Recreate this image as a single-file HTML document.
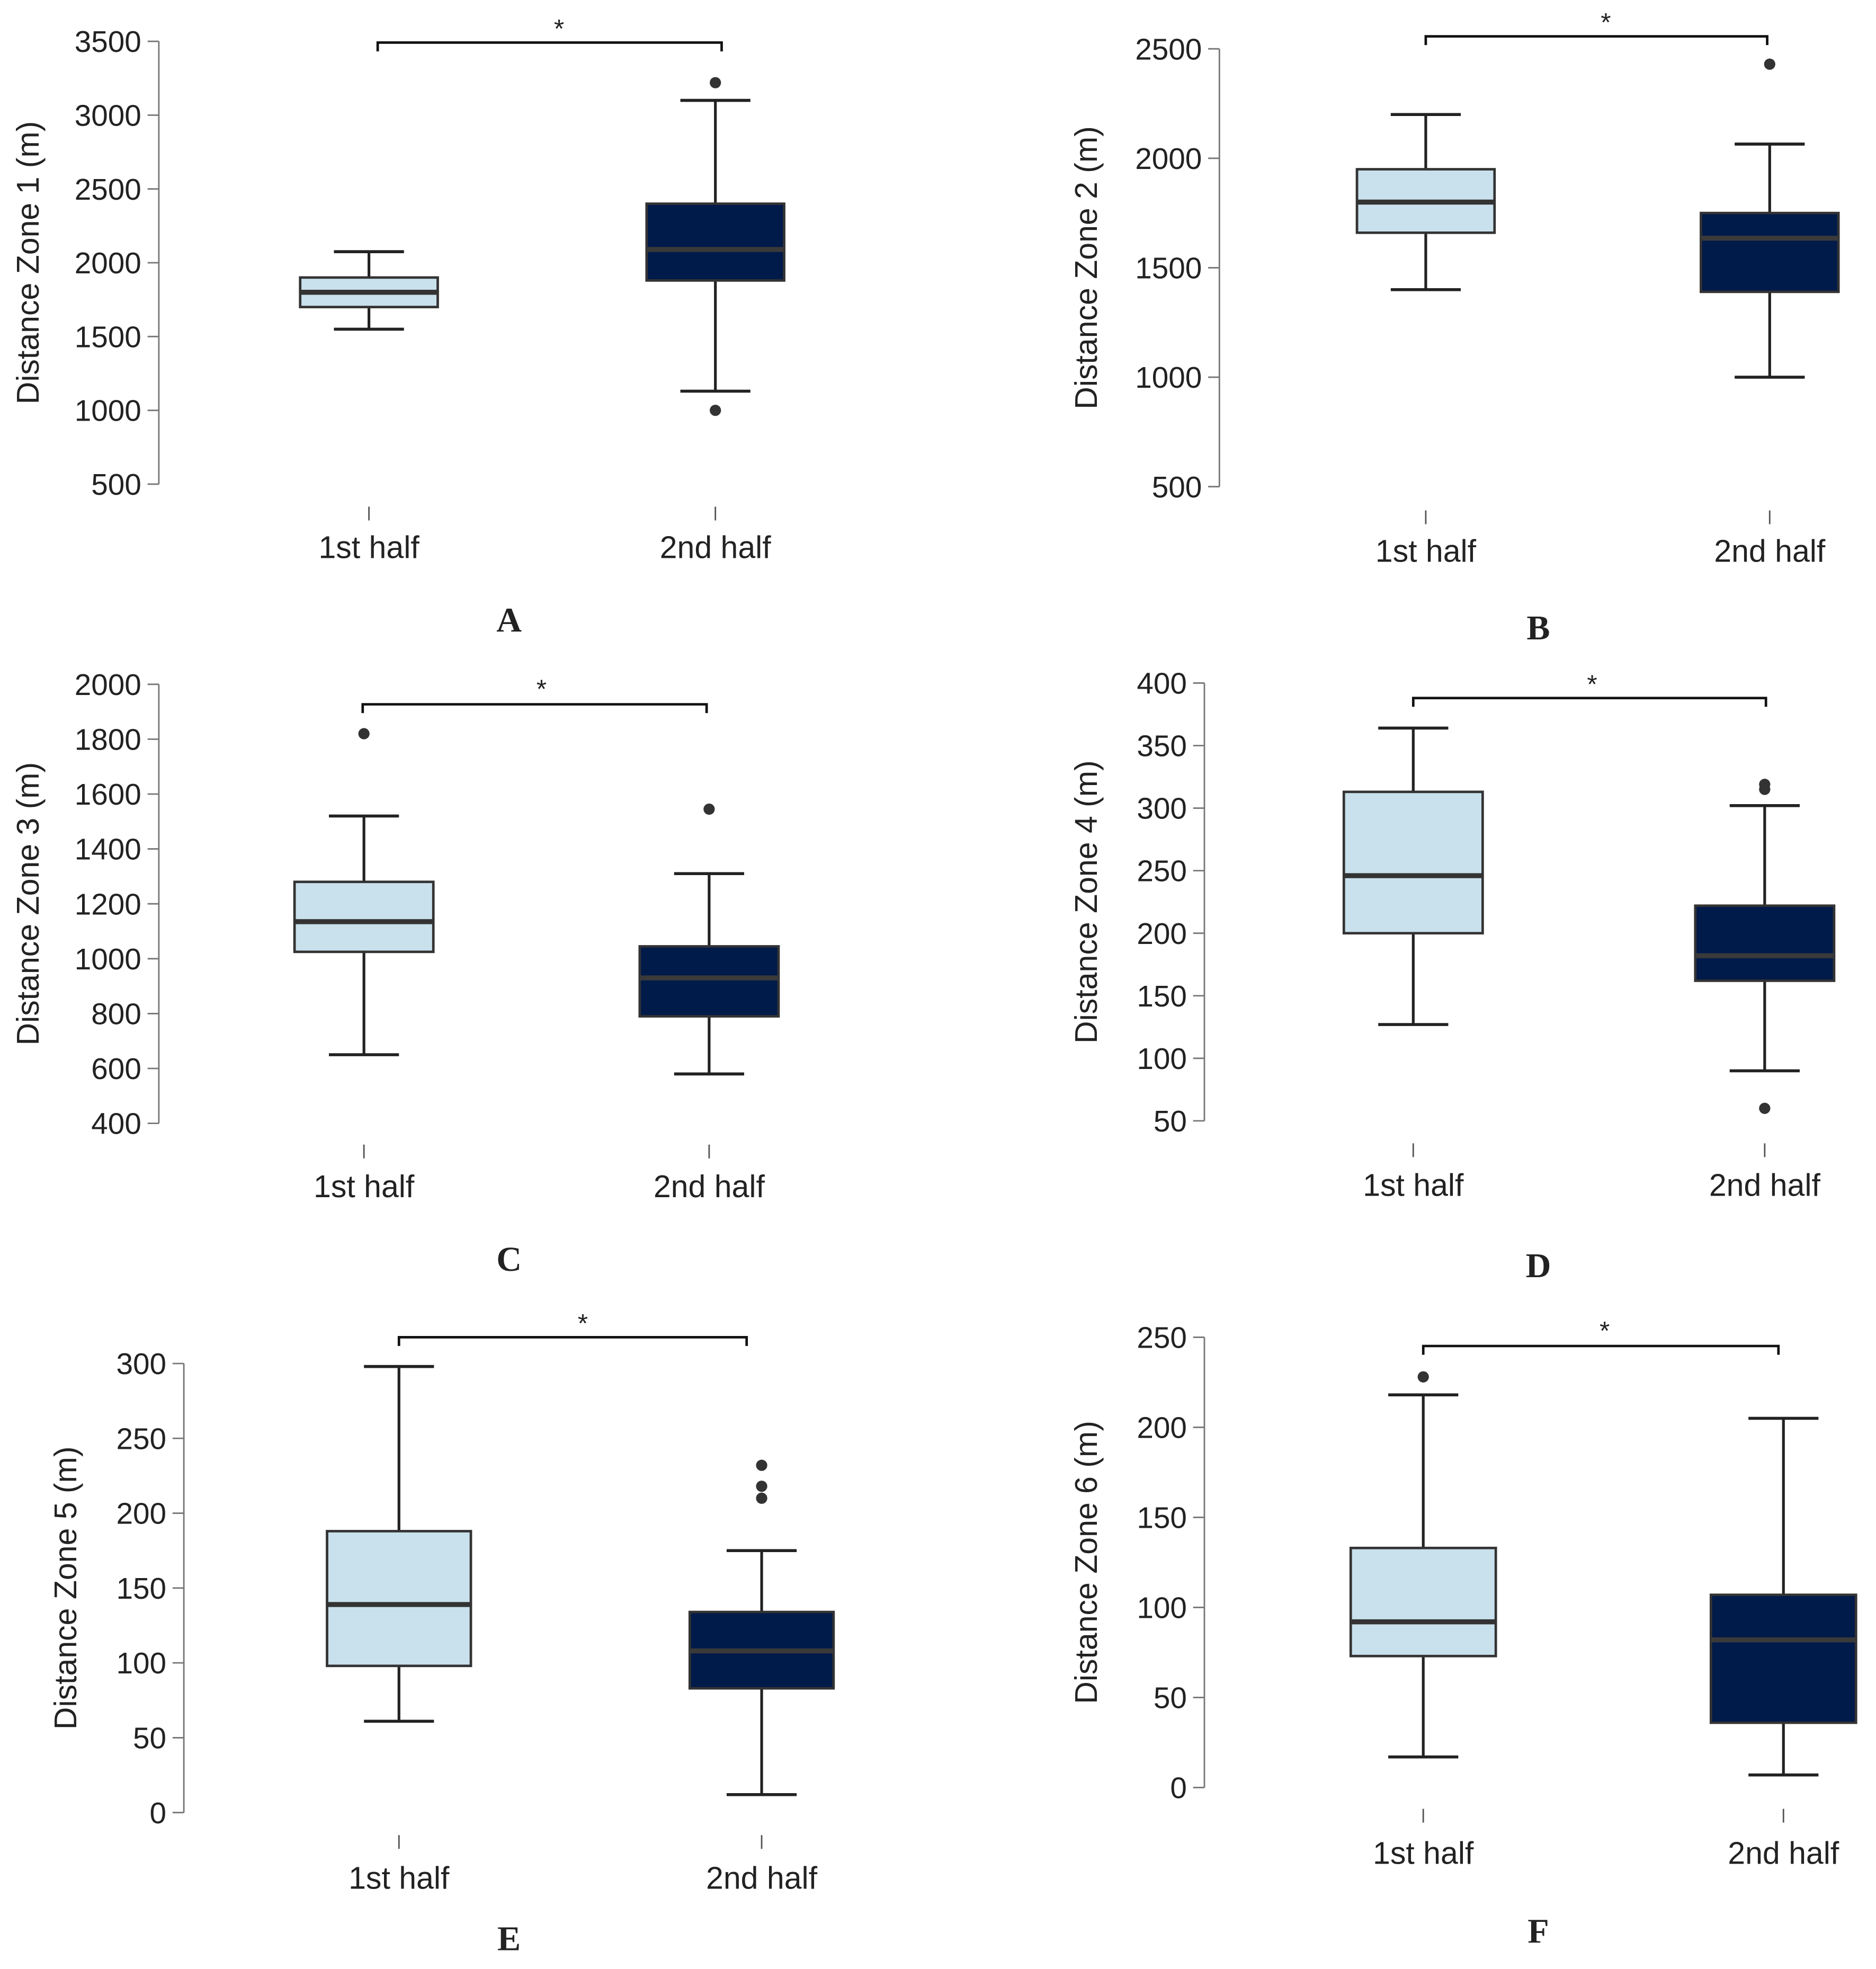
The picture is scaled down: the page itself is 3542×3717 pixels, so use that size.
<!DOCTYPE html>
<html><head><meta charset="utf-8"><style>
html,body{margin:0;padding:0;background:#fff}
svg{display:block}
text{font-family:"Liberation Sans",sans-serif;fill:#222}
</style></head><body>
<svg id="chart" width="3542" height="3717" viewBox="0 0 1500 1574" xmlns="http://www.w3.org/2000/svg"></svg>
<script>
// Data: [min, q1, median, q3, max]
const groups = ["1st half","2nd half"];
const panelLetters = ["A","B","C","D","E","F"];
const yTitles = ["Distance Zone 1 (m)","Distance Zone 2 (m)","Distance Zone 3 (m)","Distance Zone 4 (m)","Distance Zone 5 (m)","Distance Zone 6 (m)"];
const ticksA = [500,1000,1500,2000,2500,3000,3500];
const ticksB = [500,1000,1500,2000,2500];
const ticksC = [400,600,800,1000,1200,1400,1600,1800,2000];
const ticksD = [50,100,150,200,250,300,350,400];
const ticksE = [0,50,100,150,200,250,300];
const ticksF = [0,50,100,150,200,250];
const statsA1 = [1550,1700,1800,1900,2075]; const statsA2 = [1130,1880,2090,2400,3100];
const outA1 = []; const outA2 = [3220,1000];
const statsB1 = [1400,1660,1800,1950,2200]; const statsB2 = [1000,1390,1635,1750,2065];
const outB1 = []; const outB2 = [2430];
const statsC1 = [650,1025,1135,1280,1520]; const statsC2 = [580,790,930,1045,1310];
const outC1 = [1820]; const outC2 = [1545];
const statsD1 = [127,200,246,313,364]; const statsD2 = [90,162,182,222,302];
const outD1 = []; const outD2 = [315,319,60];
const statsE1 = [61,98,139,188,298]; const statsE2 = [12,83,108,134,175];
const outE1 = []; const outE2 = [210,218,232];
const statsF1 = [17,73,92,133,218]; const statsF2 = [7,36,82,107,205];
const outF1 = [228]; const outF2 = [];

const L = [
 {ax:127,yTop:33,yBot:387,cx:[295,572],bw:110,brY:34,brX:[302,577],star:[447,18],tickY:405,labY:446,let:[407,505],ylx:22},
 {ax:975,yTop:39,yBot:389,cx:[1140,1415],bw:110,brY:29,brX:[1140,1413],star:[1284,13],tickY:408,labY:449,let:[1230,511],ylx:868},
 {ax:127,yTop:547,yBot:898,cx:[291,567],bw:111,brY:563,brX:[290,565],star:[433,546],tickY:915,labY:957,let:[407,1016],ylx:22},
 {ax:963,yTop:546,yBot:896,cx:[1130,1411],bw:111,brY:558,brX:[1130,1412],star:[1273,542],tickY:914,labY:956,let:[1230,1021],ylx:868},
 {ax:147,yTop:1090,yBot:1449,cx:[319,609],bw:115,brY:1069,brX:[319,597],star:[466,1053],tickY:1467,labY:1510,let:[407,1559],ylx:52},
 {ax:963,yTop:1069,yBot:1429,cx:[1138,1426],bw:116,brY:1076,brX:[1138,1422],star:[1283,1059],tickY:1446,labY:1490,let:[1230,1553],ylx:868}
];
const ticks=[ticksA,ticksB,ticksC,ticksD,ticksE,ticksF];
const stats=[[statsA1,statsA2],[statsB1,statsB2],[statsC1,statsC2],[statsD1,statsD2],[statsE1,statsE2],[statsF1,statsF2]];
const outs=[[outA1,outA2],[outB1,outB2],[outC1,outC2],[outD1,outD2],[outE1,outE2],[outF1,outF2]];
const fills=["#c9e1ec","#001a4a"];
const meds=["#333","#3a3a3a"];
const svg=document.getElementById('chart');
const NS="http://www.w3.org/2000/svg";
function mk(tag,attrs,parent,txt){const e=document.createElementNS(NS,tag);for(const k in attrs)e.setAttribute(k,attrs[k]);if(txt!==undefined)e.textContent=txt;(parent||svg).appendChild(e);return e;}

for(let p=0;p<6;p++){
 const c=L[p],t=ticks[p];
 const g=mk('g',{});
 
 
 const lo=t[0],hi=t[t.length-1];
 const y=v=>c.yBot-(v-lo)/(hi-lo)*(c.yBot-c.yTop);
 const axl=mk('line',{x1:c.ax,x2:c.ax,y1:c.yTop,y2:c.yBot,stroke:'#777','stroke-width':1.2},g);
 
 
 t.forEach(v=>{
  mk('line',{x1:c.ax-9,x2:c.ax,y1:y(v),y2:y(v),stroke:'#777','stroke-width':1.2},g);
  const tl=mk('text',{x:c.ax-14,y:y(v)+8.5,'text-anchor':'end','font-size':24},g,String(v));
  
  
 });
 const yt=mk('text',{x:c.ylx,y:(c.yTop+c.yBot)/2,'text-anchor':'middle','font-size':25,transform:`rotate(-90 ${c.ylx} ${(c.yTop+c.yBot)/2}) translate(0 9)`},g,yTitles[p]);
 
 
 for(let i=0;i<2;i++){
  const s=stats[p][i],cx=c.cx[i],hw=c.bw/2,ww=28;
  const bg=mk('g',{},g);
  
  
  mk('line',{x1:cx,x2:cx,y1:y(s[0]),y2:y(s[1]),stroke:'#222','stroke-width':2.2},bg);
  mk('line',{x1:cx,x2:cx,y1:y(s[3]),y2:y(s[4]),stroke:'#222','stroke-width':2.2},bg);
  mk('line',{x1:cx-ww,x2:cx+ww,y1:y(s[0]),y2:y(s[0]),stroke:'#222','stroke-width':2.4},bg);
  mk('line',{x1:cx-ww,x2:cx+ww,y1:y(s[4]),y2:y(s[4]),stroke:'#222','stroke-width':2.4},bg);
  mk('rect',{x:cx-hw,y:y(s[3]),width:c.bw,height:y(s[1])-y(s[3]),fill:fills[i],stroke:'#333','stroke-width':2},bg);
  mk('line',{x1:cx-hw,x2:cx+hw,y1:y(s[2]),y2:y(s[2]),stroke:meds[i],'stroke-width':4},bg);
  outs[p][i].forEach(v=>{
   const o=mk('circle',{cx:cx,cy:y(v),r:4.5,fill:'#333'},bg);
   
   
  });
  mk('line',{x1:cx,x2:cx,y1:c.tickY,y2:c.tickY+11,stroke:'#555','stroke-width':1.2},g);
  const xl=mk('text',{x:cx,y:c.labY,'text-anchor':'middle','font-size':25},g,groups[i]);
  
  
 }
 const br=mk('path',{d:`M${c.brX[0]} ${c.brY+7}V${c.brY}H${c.brX[1]}V${c.brY+7}`,fill:'none',stroke:'#111','stroke-width':2},g);
 
 
 const st=mk('text',{x:c.star[0],y:c.star[1]+12,'text-anchor':'middle','font-size':21},g,'*');
 
 
 const lt=mk('text',{x:c.let[0],y:c.let[1],'text-anchor':'middle','font-size':28,'font-weight':'bold'},g,panelLetters[p]);
 lt.style.fontFamily='"Liberation Serif",serif';
 
 
}
</script>
</body></html>
